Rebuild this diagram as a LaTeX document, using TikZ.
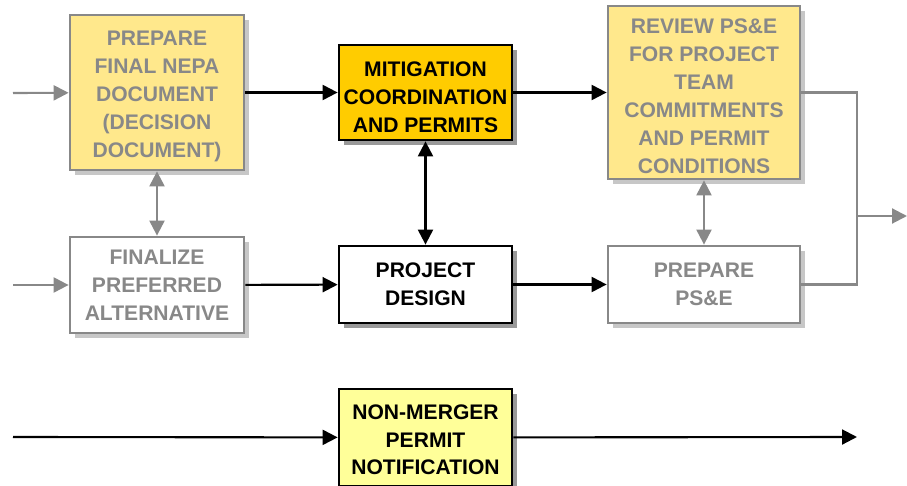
\documentclass[tikz,border=0pt]{standalone}
\usepackage{fontspec}
\setmainfont{Liberation Sans}
\usetikzlibrary{arrows.meta,shadows}
\definecolor{paleyellow}{HTML}{FFE88C}
\definecolor{gold}{HTML}{FFCC00}
\definecolor{lemon}{HTML}{FFFF99}
\definecolor{greyline}{HTML}{888888}
\newcommand{\sinkby}[1]{\rule{0pt}{#1}}
\tikzset{
  >={Triangle[length=8.5pt,width=8.5pt]},
  shade/.style={drop shadow={shadow xshift=0.1cm,shadow yshift=-0.1cm,fill=#1,opacity=1}},
  task/.style={draw,line width=1.6pt,align=center,inner sep=2pt,
    font=\fontsize{12}{15.9}\selectfont\bfseries,shade=black!40},
  oldtask/.style={draw=greyline,text=greyline,line width=1.6pt,align=center,inner sep=2pt,
    font=\fontsize{12}{15.9}\selectfont\bfseries,shade=black!22},
  flow/.style={line width=1.2pt,->},
  oldflow/.style={line width=1.2pt,->,greyline},
}
\begin{document}
\begin{tikzpicture}[x=0.02cm,y=-0.02cm]
\useasboundingbox (0,0) rectangle (907,486);

% top row
\node[oldtask,fill=paleyellow,minimum width=3.48cm,minimum height=3.1cm] (nepa) at (157,92.5)
  {\sinkby{13pt}PREPARE\\FINAL NEPA\\DOCUMENT\\(DECISION\\DOCUMENT)};
\node[task,fill=gold,minimum width=3.46cm,minimum height=1.9cm] (mitig) at (425.5,92.5)
  {\sinkby{14pt}MITIGATION\\COORDINATION\\AND PERMITS};
\node[oldtask,fill=paleyellow,minimum width=3.84cm,minimum height=3.46cm] (review) at (704,92.5)
  {\sinkby{13pt}REVIEW PS\&E\\FOR PROJECT\\TEAM\\COMMITMENTS\\AND PERMIT\\CONDITIONS};

% middle row
\node[oldtask,fill=white,minimum width=3.48cm,minimum height=1.92cm] (final) at (157,285)
  {FINALIZE\\PREFERRED\\ALTERNATIVE};
\node[task,fill=white,minimum width=3.46cm,minimum height=1.54cm] (design) at (425.5,284.5)
  {PROJECT\\DESIGN};
\node[oldtask,fill=white,minimum width=3.84cm,minimum height=1.54cm] (pse) at (704,284.5)
  {PREPARE\\PS\&E};

% bottom row
\node[task,fill=lemon,minimum width=3.46cm,minimum height=1.94cm] (notif) at (425.5,437.5)
  {\sinkby{11pt}NON-MERGER\\PERMIT\\NOTIFICATION};

\coordinate (inA) at (13,93);
\coordinate (inD) at (13,285);
\coordinate (inG) at (13,437);
\coordinate (outG) at (857,437);
\coordinate (join) at (857,216);
\coordinate (out) at (907,216);

\draw[oldflow] (inA) -- (nepa);
\draw[oldflow] (inD) -- (final);
\draw[oldflow,<->] (nepa) -- (final);
\draw[oldflow,<->] (review) -- (pse);
\draw[line width=1.2pt,greyline] (review.east) -| (join) |- (pse.east);
\draw[oldflow] (join) -- (out);

\draw[flow] (nepa) -- (mitig);
\draw[flow] (mitig) -- (review);
\draw[flow,<->] (mitig) -- (design);
\draw[flow] (final) -- (design);
\draw[flow] (design) -- (pse);
\draw[flow] (inG) -- (notif);
\draw[flow] (notif) -- (outG);
\end{tikzpicture}
\end{document}
